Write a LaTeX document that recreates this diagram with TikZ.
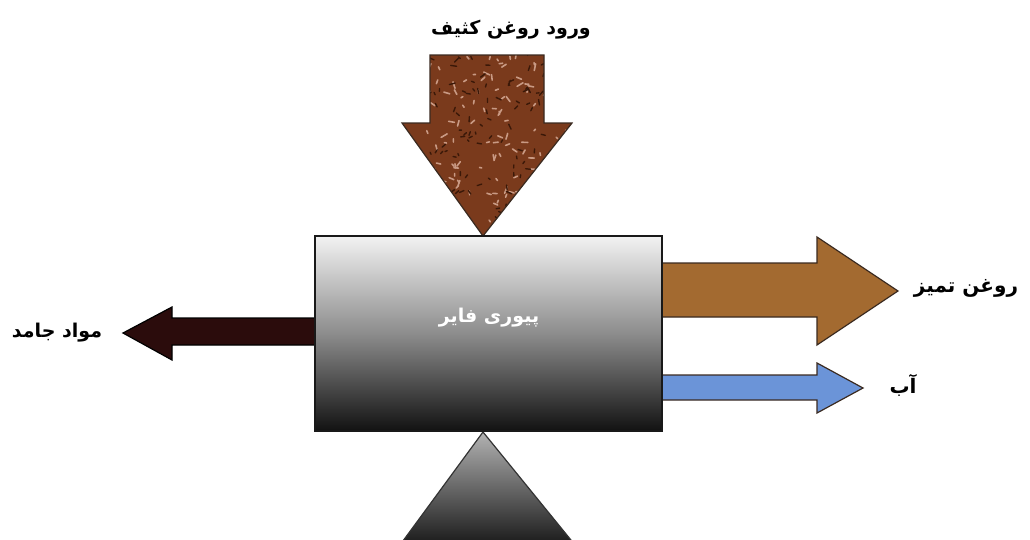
\documentclass[tikz,border=0pt]{standalone}
\usepackage{fontspec}
\newfontfamily\arabicfont[Script=Arabic]{DejaVu Sans}
\TeXXeTstate=1
\definecolor{dirtyoil}{HTML}{7A3A1C}
\definecolor{cleanoil}{HTML}{A36A30}
\definecolor{water}{HTML}{6B94D8}
\definecolor{solids}{HTML}{2B0C0C}
\definecolor{edge}{HTML}{3A2A20}
\definecolor{speckL}{HTML}{C99A84}
\definecolor{speckD}{HTML}{3A1808}
\tikzset{
  blockarrow/.style={draw=edge, line width=1.2pt, line join=miter},
  lbl/.style={font=\arabicfont\bfseries\fontsize{19}{22}\selectfont, text=black, inner sep=0pt},
}
\begin{document}
\begin{tikzpicture}[x=1pt,y=-1pt]
\useasboundingbox (0,0) rectangle (1030,539);
% dirty oil inlet arrow
\path[fill=dirtyoil] (430,55) -- (544,55) -- (544,123) -- (572,123) -- (483,236) -- (402,123) -- (430,123) -- cycle;
\begin{scope}
  \clip (430,55) -- (544,55) -- (544,123) -- (572,123) -- (483,236) -- (402,123) -- (430,123) -- cycle;
  \pgfmathsetseed{11}
  \foreach \i in {1,...,150} {
    \pgfmathsetmacro\xx{402+170*rnd}
    \pgfmathsetmacro\yy{55+180*rnd}
    \pgfmathsetmacro\aa{360*rnd}
    \pgfmathsetmacro\ll{2+5*rnd}
    \draw[speckL, line width=1.6pt, line cap=round] (\xx,\yy) -- ++(\aa:\ll);
  }
  \foreach \i in {1,...,140} {
    \pgfmathsetmacro\xx{402+170*rnd}
    \pgfmathsetmacro\yy{55+180*rnd}
    \pgfmathsetmacro\aa{360*rnd}
    \pgfmathsetmacro\ll{2+4*rnd}
    \draw[speckD, line width=1.4pt, line cap=round] (\xx,\yy) -- ++(\aa:\ll);
  }
\end{scope}
\draw[blockarrow] (430,55) -- (544,55) -- (544,123) -- (572,123) -- (483,236) -- (402,123) -- (430,123) -- cycle;
% clean oil arrow
\draw[blockarrow, fill=cleanoil] (662,263) -- (817,263) -- (817,237) -- (898,291) -- (817,345) -- (817,317) -- (662,317) -- cycle;
% water arrow
\draw[blockarrow, fill=water] (662,375) -- (817,375) -- (817,363) -- (863,388) -- (817,413) -- (817,400) -- (662,400) -- cycle;
% solids arrow
\draw[blockarrow, draw=black, fill=solids] (315,318) -- (172,318) -- (172,307) -- (123,333) -- (172,360) -- (172,345) -- (315,345) -- cycle;
% support triangle
\draw[draw=black!80, line width=1.2pt, top color=black!30, bottom color=black!90] (483,432) -- (400,545) -- (575,545) -- cycle;
% purifier box
\node[draw=black!90, line width=1.6pt, minimum width=347pt, minimum height=195pt, inner sep=0pt,
      shading=axis, top color=black!5, bottom color=black!93, middle color=black!45] (pf) at (488.5,333.5) {};
\node[lbl, text=white] (pft) at (489,318) {\beginR پیوری فایر\endR};
% labels
\node[lbl] (tin) at (511,30) {\beginR ورود روغن کثیف\endR};
\node[lbl, font=\arabicfont\bfseries\fontsize{20}{23}\selectfont] (tclean) at (966,288) {\beginR روغن تمیز\endR};
\node[lbl, font=\arabicfont\bfseries\fontsize{20}{23}\selectfont] (twater) at (903,385) {\beginR آب\endR};
\node[lbl] (tsolid) at (57,333) {\beginR مواد جامد\endR};
\end{tikzpicture}
\end{document}
